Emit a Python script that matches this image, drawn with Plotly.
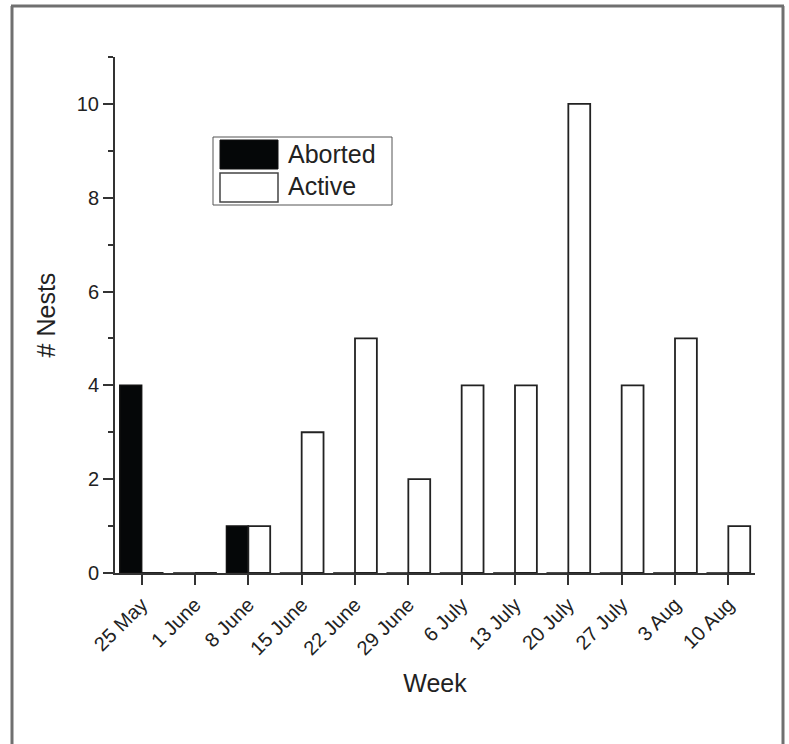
import plotly.graph_objects as go

weeks = ["25 May", "1 June", "8 June", "15 June", "22 June", "29 June",
         "6 July", "13 July", "20 July", "27 July", "3 Aug", "10 Aug"]
aborted = [4, 0, 1, 0, 0, 0, 0, 0, 0, 0, 0, 0]
active = [0, 0, 1, 3, 5, 2, 4, 4, 10, 4, 5, 1]

W, H = 789, 744
L, R, T, B = 115, 34, 57, 171
PW, PH = W - L - R, H - T - B

def px(x):
    return (x - L) / PW

def py(y):
    return (H - B - y) / PH

FONT = "Liberation Sans, Arial, sans-serif"
TXT = "#222222"
AX = "#333333"

fig = go.Figure()
fig.add_trace(go.Bar(x=weeks, y=aborted, name="Aborted",
                     marker=dict(color="#050708", line=dict(color="#111111", width=1.5)),
                     showlegend=False))
fig.add_trace(go.Bar(x=weeks, y=active, name="Active",
                     marker=dict(color="white", line=dict(color="#222222", width=1.8)),
                     showlegend=False))

shapes = [
    # outer frame
    dict(type="line", xref="paper", yref="paper", x0=px(12), x1=px(12), y0=py(6), y1=py(760),
         line=dict(color="#707070", width=3)),
    dict(type="line", xref="paper", yref="paper", x0=px(783), x1=px(783), y0=py(6), y1=py(760),
         line=dict(color="#707070", width=3)),
    dict(type="line", xref="paper", yref="paper", x0=px(11), x1=px(784), y0=py(6), y1=py(6),
         line=dict(color="#707070", width=3)),
    # legend box
    dict(type="rect", xref="paper", yref="paper", x0=px(213), x1=px(392), y0=py(137), y1=py(205),
         line=dict(color="#555555", width=1), fillcolor="white"),
    dict(type="rect", xref="paper", yref="paper", x0=px(220), x1=px(278), y0=py(140), y1=py(169),
         line=dict(color="#111111", width=1), fillcolor="#050708"),
    dict(type="rect", xref="paper", yref="paper", x0=px(220), x1=px(278), y0=py(173), y1=py(202),
         line=dict(color="#444444", width=1.5), fillcolor="white"),
]

annotations = [
    dict(text="Aborted", xref="paper", yref="paper", x=px(286), y=py(154),
         xanchor="left", yanchor="middle", showarrow=False,
         font=dict(family=FONT, size=25, color=TXT)),
    dict(text="Active", xref="paper", yref="paper", x=px(286), y=py(186),
         xanchor="left", yanchor="middle", showarrow=False,
         font=dict(family=FONT, size=25, color=TXT)),
]

fig.update_layout(
    width=W, height=H,
    margin=dict(l=L, r=R, t=T, b=B),
    paper_bgcolor="white", plot_bgcolor="white",
    barmode="group", bargap=0.18, bargroupgap=0,
    shapes=shapes, annotations=annotations,
    font=dict(family=FONT, color=TXT),
    showlegend=False,
)
fig.update_xaxes(
    type="category", range=[-0.5, 11.5],
    showline=True, linecolor=AX, linewidth=2, mirror=False,
    ticks="outside", ticklen=10, tickwidth=2, tickcolor=AX,
    tickangle=-45, tickfont=dict(size=20, family=FONT, color=TXT),
    showgrid=False, zeroline=False,
    title=dict(text="Week", font=dict(size=25, family=FONT, color=TXT), standoff=16),
)
fig.update_yaxes(
    range=[0, 11], tickvals=[0, 2, 4, 6, 8, 10],
    showline=True, linecolor=AX, linewidth=2,
    ticks="outside", ticklen=10, tickwidth=2, tickcolor=AX,
    minor=dict(ticks="outside", ticklen=5, tickwidth=2, tickcolor=AX, dtick=1, tick0=0),
    tickfont=dict(size=20, family=FONT, color=TXT),
    showgrid=False, zeroline=False,
    title=dict(text="# Nests", font=dict(size=25, family=FONT, color=TXT), standoff=14),
)

fig.write_html("out.html", config={"displayModeBar": False},
               post_script="document.body.style.margin='0px';")
